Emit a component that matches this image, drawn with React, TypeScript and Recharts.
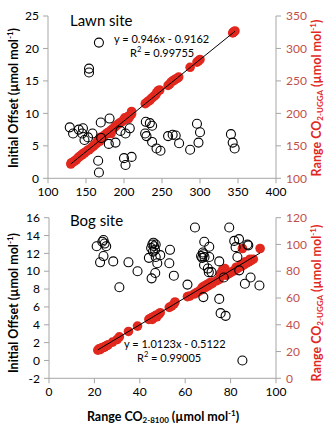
import React from 'react';
import { ScatterChart, Scatter, XAxis, YAxis } from 'recharts';

// Lawn site
const lawnOffset = [
  [128.6, 7.85], [133, 6.9], [140.5, 7.5], [146, 7.7], [145, 6.9], [148, 5.9], [152.7, 6.3], [158.5, 6.9],
  [154, 16.9], [154, 16.3], [167, 20.9], [166, 2.7], [167, 0.9], [169.4, 8.6], [170, 6.2], [181, 9.2],
  [180, 5.3], [188.8, 5.5], [195.4, 7.3], [202, 6.9], [207.6, 7.7], [200, 3.1], [202, 2.05], [210, 3.3],
  [228.7, 8.7], [234, 8.5], [237, 8.1], [227.8, 6.9], [229.6, 6.5], [237, 5.6], [242.8, 4.6], [248, 4.25],
  [258, 6.5], [264, 6.7], [268, 6.6], [272.5, 5.4], [287, 4.4], [296, 8.4], [300, 7.1], [298, 5.5],
  [340.7, 6.8], [343, 5.5], [345.6, 4.6],
].map(([x, y]) => ({ x, y }));

const lawnUgga = [
  [130, 122], [131, 124], [133, 125], [135, 127], [137, 128], [139, 131], [141, 133], [143, 135], [145, 136],
  [146, 138], [148, 139], [150, 141], [152, 143], [154, 144], [156, 146], [158, 148], [160, 150], [162, 152],
  [164, 154], [165, 156], [166, 158], [167, 160], [168, 157], [169, 163], [170, 161], [171, 162], [172, 164],
  [174, 166], [176, 168], [178, 170], [180, 171], [182, 173], [183, 169], [184, 175], [186, 177], [188, 179],
  [190, 181], [192, 183], [194, 185], [196, 186], [198, 188], [200, 190], [201, 193], [203, 191], [205, 195],
  [206, 192], [208, 196], [210, 199], [210, 203],
  [228, 215], [230, 217], [232, 219], [234, 220], [236, 223], [238, 225], [240, 227], [242, 229],
  [243, 232], [245, 235], [247, 236],
  [258, 243], [260, 245], [262, 248], [264, 250], [266, 251], [268, 253], [270, 254], [272, 256],
  [287, 271], [296, 279], [298, 281], [300, 283],
  [343, 324], [344, 325], [345, 326], [346, 327],
].map(([x, y]) => ({ x, y }));

const lawnTrend = [{ x: 130, y: 122.1 }, { x: 346, y: 326.4 }];

// Bog site
const bogOffset = [
  [21, 12.8], [22.5, 11], [23.5, 13.3], [24, 13.5], [24.5, 13.1], [25.2, 12.8], [24, 11.7], [28.3, 11.1],
  [31, 8.2], [35, 11], [39, 10], [44, 11.5], [45.2, 9.2], [45, 12.6], [45.5, 13], [46, 13.2], [46.3, 12.8],
  [46.7, 12.4], [47, 13], [45.8, 12.2], [46.8, 9.8], [47, 11.6], [47.7, 10.9], [49, 11.8], [53.3, 12.4],
  [53, 10.9], [55, 9.5], [61, 8.5], [64.3, 14.9], [68.4, 13.3], [67, 11.7], [67.5, 11.5], [68, 11.9],
  [68.5, 11.6], [67.8, 12.1], [68.3, 10.7], [68, 7.1], [70.6, 12.75], [70.6, 11.6], [70, 10.3], [70.4, 9.9],
  [71.6, 9.9], [75, 11.1], [75, 6.9], [75.6, 5.3], [77.8, 5], [77, 9.3], [79.4, 14.9], [81.6, 13.4],
  [82.2, 12.7], [83.7, 13.6], [83, 11.6], [83.8, 10.1], [86.3, 8.6], [87.4, 13], [87.8, 12.9], [88.8, 9.3],
  [92.7, 8.4], [85.2, 0],
].map(([x, y]) => ({ x, y }));

const bogUgga = [
  [21.5, 21], [22, 22], [22.5, 21.5], [23, 22.5], [23.5, 23], [24, 23], [24.5, 23.5], [25, 24], [25.5, 24.5],
  [26, 25], [28, 27], [30, 29], [31, 31], [35, 35], [39, 39],
  [44, 44], [44.5, 44.5], [45, 45], [45.5, 44], [46, 46], [46.5, 45.5], [47, 47], [47.5, 46], [48, 47.5],
  [48.5, 48], [49, 49], [53, 53], [54, 54], [55, 55.5], [55.5, 57], [61, 61], [62, 61.5],
  [64, 63], [65, 64], [66, 65], [67, 66], [67.5, 68], [68, 67], [68.5, 69], [69, 68], [69.5, 70], [70, 69],
  [70.5, 71], [71, 70], [71.5, 72], [72, 71],
  [74, 73], [75, 74], [75.5, 78], [76, 79], [76.5, 81], [77, 80], [77.5, 82], [78, 77], [79, 78], [80, 79],
  [81, 80], [82, 81], [82.5, 83], [83, 82], [84, 83], [84.5, 85], [85, 84], [85.2, 97], [86, 85], [86.5, 87],
  [87, 86], [88, 87], [88.5, 89], [89, 88], [90, 89], [93, 97],
].map(([x, y]) => ({ x, y }));

const bogTrend = [{ x: 21.5, y: 21.25 }, { x: 93, y: 93.63 }];

const lawnXTicks = [100, 150, 200, 250, 300, 350, 400];
const lawnLeftTicks = [0, 5, 10, 15, 20, 25];
const lawnRightTicks = [100, 150, 200, 250, 300, 350];
const bogXTicks = [0, 20, 40, 60, 80, 100];
const bogLeftTicks = [-2, 0, 2, 4, 6, 8, 10, 12, 14, 16];
const bogRightTicks = [0, 20, 40, 60, 80, 100, 120];

const FONT = 'Lato, "Open Sans", sans-serif';
const AXIS = '#A6A6A6';
const RED = '#E2281E';
const RED_TEXT = '#C0504D';

const OpenCircle = (p: any) => <circle cx={p.cx} cy={p.cy} r={4.5} fill="none" stroke="#000" strokeWidth={1.1} />;
const RedDot = (p: any) => <circle cx={p.cx} cy={p.cy} r={4.8} fill={RED} />;
const NoDot = () => <g />;

const tickLeft = { fill: '#000', fontSize: 12, fontFamily: FONT };
const tickRight = { fill: RED_TEXT, fontSize: 12, fontFamily: FONT };

function Panel(props: {
  top: number; height: number; margin: any; xHeight: number; leftW: number;
  xDomain: number[]; xTicks: number[]; lDomain: number[]; lTicks: number[]; rDomain: number[]; rTicks: number[];
  offset: any[]; ugga: any[]; trend: any[];
}) {
  return (
    <div style={{ position: 'absolute', left: 0, top: props.top }}>
      <ScatterChart width={333} height={props.height} margin={props.margin}>
        <XAxis type="number" dataKey="x" domain={props.xDomain} ticks={props.xTicks} height={props.xHeight} interval={0}
          axisLine={{ stroke: AXIS }} tickLine={{ stroke: AXIS }} tickSize={5} tickMargin={4} tick={tickLeft} />
        <YAxis yAxisId="left" type="number" dataKey="y" domain={props.lDomain} ticks={props.lTicks} width={props.leftW} interval={0}
          axisLine={{ stroke: AXIS }} tickLine={{ stroke: AXIS }} tickSize={5} tickMargin={4} tick={tickLeft} />
        <YAxis yAxisId="right" orientation="right" type="number" dataKey="y" domain={props.rDomain} ticks={props.rTicks} width={57} interval={0}
          axisLine={{ stroke: AXIS }} tickLine={{ stroke: AXIS }} tickSize={5} tickMargin={5} tick={tickRight} />
        <Scatter yAxisId="right" data={props.ugga} shape={RedDot} isAnimationActive={false} />
        <Scatter yAxisId="right" data={props.trend} shape={NoDot} line={{ stroke: '#000', strokeWidth: 1 }} isAnimationActive={false} />
        <Scatter yAxisId="left" data={props.offset} shape={OpenCircle} isAnimationActive={false} />
      </ScatterChart>
    </div>
  );
}

const titleStyle = { fontFamily: FONT, fontWeight: 700, fontSize: 12.5 } as const;

function LeftTitle({ x, y }: { x: number; y: number }) {
  return (
    <text x={x} y={y} transform={`rotate(-90 ${x} ${y})`} textAnchor="middle" dominantBaseline="middle" fill="#000" style={titleStyle}>
      Initial Offset (µmol mol<tspan fontSize={8} dy={-4}>-1</tspan><tspan dy={4}>)</tspan>
    </text>
  );
}

function RightTitle({ x, y }: { x: number; y: number }) {
  return (
    <text x={x} y={y} transform={`rotate(-90 ${x} ${y})`} textAnchor="middle" dominantBaseline="middle" fill={RED} style={titleStyle}>
      Range CO<tspan fontSize={8} dy={3}>2-UGGA</tspan><tspan dy={-3}> (µmol mol</tspan><tspan fontSize={8} dy={-4}>-1</tspan><tspan dy={4}>)</tspan>
    </text>
  );
}

export default function App() {
  return (
    <div style={{ position: 'absolute', left: 0, top: 0, width: 333, height: 427, background: '#fff' }}>
      <Panel top={0} height={205} margin={{ top: 16, right: 0, bottom: 0, left: 0 }} xHeight={26.7} leftW={48}
        xDomain={[100, 400]} xTicks={lawnXTicks} lDomain={[0, 25]} lTicks={lawnLeftTicks}
        rDomain={[100, 350]} rTicks={lawnRightTicks} offset={lawnOffset} ugga={lawnUgga} trend={lawnTrend} />
      <Panel top={205} height={222} margin={{ top: 12.7, right: 0, bottom: 0, left: 0 }} xHeight={48.7} leftW={49}
        xDomain={[0, 100]} xTicks={bogXTicks} lDomain={[-2, 16]} lTicks={bogLeftTicks}
        rDomain={[0, 120]} rTicks={bogRightTicks} offset={bogOffset} ugga={bogUgga} trend={bogTrend} />
      <svg width={333} height={427} style={{ position: 'absolute', left: 0, top: 0, pointerEvents: 'none' }}>
        <g style={{ fontFamily: FONT }} fill="#000">
          <text x={70} y={22} dominantBaseline="middle" fontSize={15}>Lawn site</text>
          <text x={114} y={40} dominantBaseline="middle" fontSize={11}>y = 0.946x - 0.9162</text>
          <text x={130} y={54} dominantBaseline="middle" fontSize={11}>R<tspan fontSize={7.5} dy={-4}>2</tspan><tspan dy={4}> = 0.99755</tspan></text>
          <text x={70} y={222} dominantBaseline="middle" fontSize={15}>Bog site</text>
          <text x={124} y={345} dominantBaseline="middle" fontSize={11}>y = 1.0123x - 0.5122</text>
          <text x={137} y={359} dominantBaseline="middle" fontSize={11}>R<tspan fontSize={7.5} dy={-4}>2</tspan><tspan dy={4}> = 0.99005</tspan></text>
          <text x={163} y={418} textAnchor="middle" dominantBaseline="middle" style={titleStyle}>
            Range CO<tspan fontSize={8} dy={3}>2-8100</tspan><tspan dy={-3}> (µmol mol</tspan><tspan fontSize={8} dy={-4}>-1</tspan><tspan dy={4}>)</tspan>
          </text>
        </g>
        <LeftTitle x={15} y={98} />
        <RightTitle x={318} y={98} />
        <LeftTitle x={15} y={303} />
        <RightTitle x={318} y={303} />
      </svg>
    </div>
  );
}
